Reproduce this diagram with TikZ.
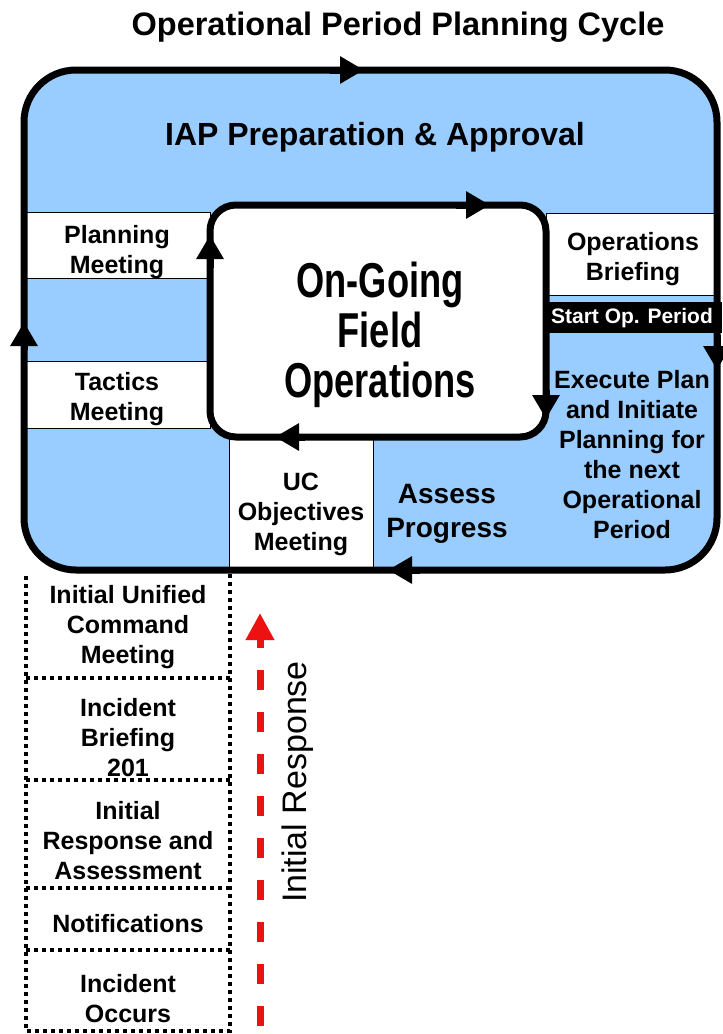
\documentclass[tikz,border=0pt]{standalone}
\usepackage{fontspec}
\setmainfont{Liberation Sans}
\newfontfamily\narrowsans[FakeStretch=0.74]{Liberation Sans}
\usetikzlibrary{arrows.meta}
\definecolor{SkyFill}{HTML}{99CCFF}
\definecolor{AlarmRed}{HTML}{EE1111}

\begin{document}
\begin{tikzpicture}[x=1pt,y=-1pt,
    stage/.style={align=center,inner sep=0pt,font=\fontsize{25}{30}\selectfont\bfseries},
    strip/.style={fill=white,draw=black,line width=1pt},
    cycleline/.style={line width=7pt,rounded corners=#1},
    flowtip/.style={line width=7pt,-{Triangle[length=24pt,width=26pt]}},
    dotline/.style={line width=4pt,dash pattern=on 4pt off 4pt}]
  \useasboundingbox (0,0) rectangle (723,1034);

  % planning cycle background and strips
  \fill[SkyFill,rounded corners=52] (24,70) rectangle (717,570);
  \draw[strip] (24,212) rectangle (210,278);
  \draw[strip] (24,361) rectangle (210,428);
  \draw[strip] (546,213) rectangle (717,295);
  \draw[strip] (229,437) rectangle (373,570);
  \fill[black] (546,302) rectangle (722,333);

  % the two loops
  \draw[cycleline=26,fill=white] (210,205) rectangle (546,437);
  \draw[cycleline=52] (24,70) rectangle (717,570);

  \draw[flowtip] (24,350) -- (24,322);
  \draw[flowtip] (330,70) -- (364,70);
  \draw[flowtip] (717,335) -- (717,370);
  \draw[flowtip] (420,570) -- (388,570);
  \draw[flowtip] (456,205) -- (490,205);
  \draw[flowtip] (210,268) -- (210,235);
  \draw[flowtip] (546,390) -- (546,419);
  \draw[flowtip] (305,437) -- (275,437);

  % initial response steps
  \draw[dotline] (26,576) -- (26,1031) -- (230,1031) -- (230,574);
  \foreach \y in {678,780,888,950}
    \draw[dotline] (26,\y) -- (230,\y);
  \draw[AlarmRed,line width=7pt,dash pattern=on 20pt off 22pt,
    -{Triangle[length=27pt,width=27pt]}] (260,1026) -- (260,613);

  % texts
  \node[font=\fontsize{32.5}{38}\selectfont\bfseries] (title) at (398,27)
    {Operational Period Planning Cycle};
  \node[font=\fontsize{32}{38}\selectfont\bfseries] (iap) at (375,137)
    {IAP Preparation \& Approval};
  \node[stage] (plan) at (117,252) {Planning\\Meeting};
  \node[stage] (tact) at (117,399) {Tactics\\Meeting};
  \node[stage] (brief) at (633,259) {Operations\\Briefing};
  \node[font=\fontsize{21}{24}\selectfont\bfseries,text=white] (start) at (632,318)
    {Start Op. Period};
  \node[align=center,inner sep=0pt,font=\narrowsans\fontsize{49}{50}\selectfont\bfseries]
    (field) at (380,335) {On-Going\\Field\\Operations};
  \node[stage] (uc) at (301,514) {UC\\Objectives\\Meeting};
  \node[stage,font=\fontsize{28}{34}\selectfont\bfseries] (assess) at (447,514)
    {Assess\\Progress};
  \node[stage] (exec) at (632,455)
    {Execute Plan\\and Initiate\\Planning for\\the next\\Operational\\Period};

  \node[stage] (ucmeet) at (128,627) {Initial Unified\\Command\\Meeting};
  \node[stage] (brief201) at (128,738) {Incident\\Briefing\\201};
  \node[stage] (assess0) at (128,841) {Initial\\Response and\\Assessment};
  \node[stage] (notify) at (128,924) {Notifications};
  \node[stage] (occurs) at (128,999) {Incident\\Occurs};
  \node[rotate=90,font=\fontsize{34}{38}\selectfont] (response) at (298,782)
    {Initial Response};
\end{tikzpicture}
\end{document}
